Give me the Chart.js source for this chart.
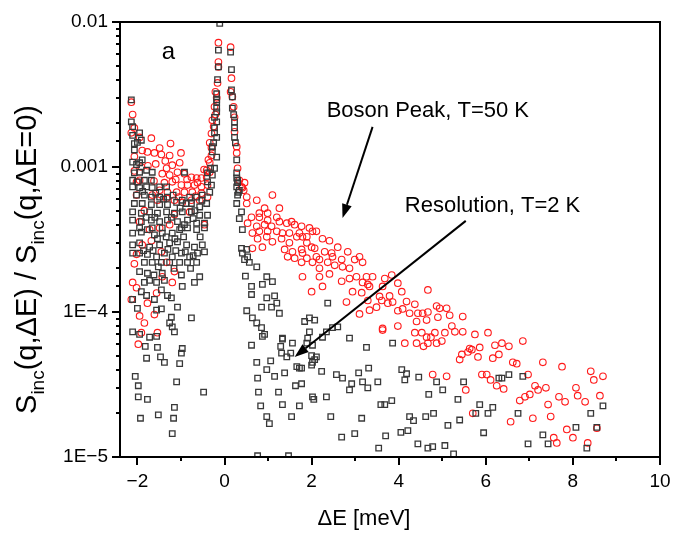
<!DOCTYPE html>
<html>
<head>
<meta charset="utf-8">
<script src="https://cdn.jsdelivr.net/npm/chart.js@4.4.1/dist/chart.umd.min.js"></script>
<style>
  html, body { margin: 0; padding: 0; background: #fff; }
</style>
</head>
<body>
<canvas id="chart" width="673" height="534"></canvas>
<script>
// Boson peak, T=50 K (red circles) : [dE meV, S/S0]
const bosonPeak = [
  [-2.14,2.8e-3],[-2.11,2.3e-3],[-2.07,1.86e-3],[-1.95,1.6e-3],[-2.14,1.72e-3],[-2.07,1.18e-3],[-1.91,1.0e-3],
  [-1.95,8.1e-4],[-2.07,9.4e-4],[-2.02,7.9e-4],[-1.95,4.2e-4],[-1.89,2.9e-4],[-1.68,3.1e-4],[-1.45,2.6e-4],
  [-1.26,4.0e-4],[-2.02,2.5e-4],[-2.07,2.15e-4],[-2.11,1.6e-4],[-2.02,1.47e-4],[-2.14,1.22e-4],[-1.77,1.15e-4],
  [-1.61,9.6e-5],[-1.84,8.4e-5],[-1.91,7.2e-5],[-1.98,6.0e-5],[-1.54,7.2e-5],[-1.15,1.9e-4],[-1.20,1.6e-4],
  [-1.33,2.2e-4],[-1.56,1.35e-4],[-1.43,1.75e-4],[-1.95,9.4e-5],
  [-1.68,1.58e-3],[-1.49,1.35e-3],[-1.26,1.2e-3],[-1.45,1.22e-3],[-1.61,1.25e-3],[-1.77,1.27e-3],[-1.89,1.3e-3],
  [-1.03,1.07e-3],[-1.20,1.03e-3],[-1.33,9.8e-4],[-1.43,9.0e-4],[-1.26,8.8e-4],[-1.08,9.2e-4],[-0.92,9.0e-4],
  [-0.76,8.5e-4],[-0.64,8.4e-4],[-0.53,8.4e-4],[-0.41,8.5e-4],[-0.34,9.2e-4],[-0.34,1.07e-3],[-0.30,1.2e-3],
  [-1.38,7.8e-4],[-1.20,7.9e-4],[-0.99,7.5e-4],[-0.85,7.5e-4],[-0.69,7.5e-4],[-0.53,7.3e-4],[-0.39,7.5e-4],
  [-1.49,6.9e-4],[-1.31,6.7e-4],[-1.10,6.7e-4],[-0.92,6.7e-4],[-0.74,6.7e-4],[-0.53,6.6e-4],[-1.54,5.9e-4],
  [-1.33,6.1e-4],[-1.15,5.9e-4],[-0.97,5.7e-4],[-0.76,5.9e-4],[-0.57,5.9e-4],[-0.39,6.2e-4],[-1.66,6.4e-4],
  [-2.02,6.4e-4],[-1.84,5.0e-4],[-1.72,3.7e-4],[-1.15,4.7e-4],[-0.80,4.9e-4],[-0.46,4.0e-4],[-1.49,3.8e-4],
  [-1.58,1.05e-3],[-1.36,1.1e-3],[-1.12,8.2e-4],[-0.86,8.2e-4],[-0.62,7.8e-4],[-0.47,9.6e-4],[-1.05,6.2e-4],
  [-0.66,6.3e-4],[-1.62,8.0e-4],[-1.76,1.02e-3],[-1.00,1.25e-3],[-1.24,1.45e-3],
  [-0.14,7.2e-3],[-0.14,5.3e-3],[-0.14,4.9e-3],[-0.16,3.8e-3],[-0.21,3.3e-3],[-0.18,3.0e-3],[-0.23,2.6e-3],
  [-0.21,2.3e-3],[-0.28,2.1e-3],[-0.25,1.9e-3],[-0.30,1.7e-3],[-0.34,1.47e-3],[-0.30,1.36e-3],[-0.37,1.12e-3],
  [-0.41,9.5e-4],
  [0.14,6.7e-3],[0.16,4.1e-3],[0.14,3.3e-3],[0.18,3.05e-3],[0.21,2.6e-3],[0.23,2.2e-3],[0.23,1.75e-3],
  [0.28,1.38e-3],[0.28,1.25e-3],[0.30,9.8e-4],[0.34,8.1e-4],[0.39,7.3e-4],[0.44,6.9e-4],[0.51,6.2e-4],
  [0.74,5.9e-4],[1.10,6.4e-4],
  [0.46,7.8e-4],[0.41,7.2e-4],[0.51,5.6e-4],[0.92,5.2e-4],[0.80,4.8e-4],[0.99,4.8e-4],[1.26,5.2e-4],
  [0.62,4.5e-4],[0.80,4.5e-4],[0.99,4.3e-4],[1.20,4.5e-4],[0.53,4.1e-4],[0.74,3.9e-4],[0.92,4.0e-4],
  [1.08,3.9e-4],[1.26,4.2e-4],[1.43,4.1e-4],[1.54,4.2e-4],[1.61,4.0e-4],[1.77,3.9e-4],[1.95,3.8e-4],
  [2.11,3.6e-4],[0.64,3.5e-4],[0.80,3.6e-4],[0.99,3.6e-4],[1.20,3.6e-4],[1.33,3.5e-4],[1.49,3.5e-4],
  [1.72,3.5e-4],[0.76,3.2e-4],[0.97,3.3e-4],[1.10,3.05e-4],[1.31,3.2e-4],[1.49,3.0e-4],[1.66,3.3e-4],
  [1.89,3.3e-4],[0.64,2.75e-4],[0.87,2.8e-4],[1.38,2.7e-4],[1.56,2.6e-4],[1.77,2.7e-4],[2.00,2.8e-4],
  [1.61,2.35e-4],[1.45,2.4e-4],[2.11,2.4e-4],[1.79,1.75e-4],[2.00,1.38e-4],
  [2.02,3.6e-4],[1.79,3.3e-4],[2.25,3.2e-4],[2.41,3.1e-4],[1.89,3.0e-4],[2.07,2.75e-4],[2.30,2.6e-4],
  [2.46,2.55e-4],[2.60,2.8e-4],[1.79,2.55e-4],[1.89,2.35e-4],[2.18,2.3e-4],[2.48,2.4e-4],[2.69,2.3e-4],
  [2.83,2.6e-4],[2.99,2.3e-4],[3.10,2.4e-4],[1.77,2.2e-4],[2.02,2.2e-4],[2.37,2.2e-4],[2.53,2.1e-4],
  [2.71,2.05e-4],[2.87,2.0e-4],[3.17,2.2e-4],[2.18,2.0e-4],[2.41,1.83e-4],[2.87,1.7e-4],[2.69,1.63e-4],
  [3.03,1.75e-4],[3.26,1.75e-4],[3.40,1.75e-4],[3.68,1.7e-4],[3.84,1.8e-4],[2.18,1.75e-4],[3.17,1.6e-4],
  [3.29,1.55e-4],[2.25,1.5e-4],[2.94,1.38e-4],[3.15,1.36e-4],[3.33,1.5e-4],[3.63,1.5e-4],[3.98,1.58e-4],
  [4.07,1.38e-4],[3.56,1.28e-4],[3.61,1.2e-4],[3.79,1.29e-4],[3.86,1.17e-4],[4.18,1.18e-4],[4.37,1.13e-4],
  [2.80,1.17e-4],[3.29,1.2e-4],[3.49,1.08e-4],[3.75,1.15e-4],[4.09,1.05e-4],[3.98,1.02e-4],[3.10,9.7e-5],
  [3.33,1.03e-4],[4.67,1.42e-4],[4.25,9.8e-5],[4.44,9.8e-5],[4.55,9.8e-5],[4.67,1.0e-4],[4.87,1.1e-4],
  [4.94,1.06e-4],[5.10,1.06e-4],[5.17,9.5e-5],[5.47,9.3e-5],[4.41,8.6e-5],[4.64,8.8e-5],[4.90,9.2e-5],
  [5.22,8.0e-5],[5.29,7.3e-5],[5.06,7.2e-5],[4.83,7.2e-5],[4.64,6.7e-5],[4.53,7.2e-5],[4.37,7.2e-5],
  [3.98,8.0e-5],[3.63,7.7e-5],[4.14,6.1e-5],[4.41,6.1e-5],[4.67,6.1e-5],[4.87,6.1e-5],[5.47,7.3e-5],
  [5.75,7.0e-5],[6.05,7.2e-5],[6.21,5.9e-5],[5.63,5.6e-5],[5.86,5.7e-5],
  [4.57,5.8e-5],[4.74,6.7e-5],[4.99,6.3e-5],[4.78,3.7e-5],[5.10,3.6e-5],[5.54,2.9e-5],[5.40,4.7e-5],
  [5.45,5.1e-5],[5.59,5.3e-5],[5.68,5.5e-5],[5.82,4.9e-5],[6.16,4.8e-5],[6.30,5.1e-5],[5.91,3.7e-5],
  [6.02,3.7e-5],[6.11,3.4e-5],[5.70,2.0e-5],[3.63,7.5e-5],
  [6.37,6.1e-5],[6.53,5.8e-5],[6.85,6.3e-5],[6.62,4.5e-5],[6.71,4.4e-5],[6.25,3.1e-5],[6.41,2.95e-5],
  [6.97,3.7e-5],[7.31,4.5e-5],[7.75,4.2e-5],[7.13,3.1e-5],[7.20,2.9e-5],[7.38,3.0e-5],[7.01,2.7e-5],
  [6.90,2.6e-5],[6.78,2.45e-5],[7.68,2.6e-5],[7.82,2.4e-5],[7.43,2.3e-5],[7.49,1.9e-5],[7.08,1.85e-5],
  [6.57,1.75e-5],[8.07,3.0e-5],[8.11,2.65e-5],[8.28,2.4e-5],[8.41,3.9e-5],[8.48,3.4e-5],[8.69,3.6e-5],
  [8.62,2.65e-5],[7.86,1.55e-5],[8.00,1.36e-5],[7.56,1.36e-5],[7.63,1.25e-5],[8.34,1.25e-5],[8.55,1.58e-5]
];

// Resolution, T=2 K (dark squares) : [dE meV, S/S0]
const resolution = [
  [-2.14,2.9e-3],[-2.11,1.9e-3],[-2.14,2.05e-3],[-2.11,1.65e-3],[-2.07,1.45e-3],[-2.00,1.48e-3],[-1.91,1.53e-3],
  [-1.95,1.72e-3],[-2.07,1.31e-3],[-2.11,1.08e-3],[-2.02,1.04e-3],[-1.95,1.07e-3],[-1.89,1.12e-3],[-2.07,9.1e-4],
  [-1.95,9.2e-4],[-1.79,9.5e-4],[-1.66,9.2e-4],[-2.11,8.1e-4],[-2.00,7.9e-4],[-1.84,8.1e-4],[-1.68,8.1e-4],
  [-2.11,7.3e-4],[-1.95,7.2e-4],[-1.79,7.3e-4],[-1.66,7.2e-4],[-1.49,7.3e-4],[-1.33,7.3e-4],[-0.92,9.2e-4],
  [-2.02,6.4e-4],[-1.84,6.4e-4],[-1.68,6.2e-4],[-1.49,6.2e-4],[-1.31,6.2e-4],[-0.80,6.2e-4],[-0.64,6.2e-4],
  [-0.51,6.4e-4],[-0.34,6.7e-4],[-0.30,7.5e-4],[-0.39,7.9e-4],[-0.28,8.8e-4],[-0.23,9.8e-4],
  [-0.18,1.17e-3],[-0.28,1.27e-3],[-0.25,1.47e-3],[-0.18,1.6e-3],[-0.23,1.72e-3],[-0.18,2.05e-3],[-0.18,2.4e-3],
  [-0.18,2.8e-3],[-0.11,9.8e-3],[-0.14,6.4e-3],[-0.14,4.9e-3],[-0.16,4.0e-3],[-0.18,3.2e-3],[-0.18,2.9e-3],
  [-0.18,2.55e-3],[-0.23,2.2e-3],[-0.23,1.86e-3],[-0.28,1.38e-3],[-0.32,9.8e-4],[-0.39,9.1e-4],
  [0.14,6.2e-3],[0.16,4.7e-3],[0.16,3.4e-3],[0.18,3.05e-3],[0.18,2.55e-3],[0.21,2.3e-3],[0.23,2.05e-3],
  [0.23,1.86e-3],[0.23,1.6e-3],[0.25,1.47e-3],[0.28,1.12e-3],[0.28,9.1e-4],[0.30,8.1e-4],[0.28,7.3e-4],
  [0.32,6.7e-4],[0.28,8.4e-4],[0.30,7.8e-4],[0.34,6.9e-4],[0.30,6.4e-4],[0.28,5.6e-4],[0.39,4.9e-4],
  [0.34,4.4e-4],[0.41,3.7e-4],[0.39,2.75e-4],[0.41,2.55e-4],[0.51,2.7e-4],[0.53,2.4e-4],[0.46,2.3e-4],
  [0.57,2.2e-4],[0.74,2.05e-4],[0.48,1.77e-4],[0.97,1.75e-4],[1.10,1.62e-4],[0.87,1.55e-4],[0.62,1.5e-4],
  [1.15,1.29e-4],[0.97,1.25e-4],[0.62,1.32e-4],[0.85,1.08e-4],[1.08,1.08e-4],[1.26,9.8e-5],[1.20,1.15e-4],
  [0.51,1.02e-4],[0.64,9.1e-5],[0.74,8.4e-5],[0.85,7.8e-5],[0.92,7.0e-5],[1.33,6.6e-5],[1.56,6.1e-5],
  [1.84,8.6e-5],[2.07,8.8e-5],[1.95,7.3e-5],[0.62,5.9e-5],
  [-2.07,5.6e-4],[-1.89,5.6e-4],[-1.68,5.5e-4],[-1.49,5.5e-4],[-1.31,5.5e-4],[-1.10,5.7e-4],[-0.97,5.9e-4],
  [-0.76,5.6e-4],[-0.57,5.3e-4],[-0.41,5.6e-4],[-2.11,4.9e-4],[-1.91,4.8e-4],[-1.72,4.9e-4],[-1.54,4.8e-4],
  [-1.33,4.9e-4],[-1.15,4.8e-4],[-0.97,4.9e-4],[-0.76,4.9e-4],[-0.57,4.65e-4],[-0.39,4.65e-4],[-2.11,4.3e-4],
  [-1.91,4.2e-4],[-1.68,4.3e-4],[-1.49,4.2e-4],[-1.31,4.3e-4],[-1.08,4.2e-4],[-0.85,4.3e-4],[-0.64,4.1e-4],
  [-0.46,4.1e-4],[-1.95,3.8e-4],[-1.66,3.8e-4],[-1.43,3.8e-4],[-0.99,3.8e-4],[-2.11,3.5e-4],[-1.91,3.55e-4],
  [-1.77,3.7e-4],[-1.61,3.4e-4],[-1.43,3.5e-4],[-1.20,3.5e-4],[-1.03,3.7e-4],[-0.85,3.8e-4],[-0.64,3.7e-4],
  [-0.46,3.8e-4],[-2.11,2.9e-4],[-1.95,3.0e-4],[-1.72,2.8e-4],[-1.49,2.9e-4],[-1.26,3.0e-4],[-1.08,3.05e-4],
  [-0.87,2.9e-4],[-0.69,2.8e-4],[-0.51,2.9e-4],[-2.11,2.55e-4],[-1.95,2.55e-4],[-1.77,2.5e-4],[-1.56,2.4e-4],
  [-1.38,2.55e-4],[-1.20,2.4e-4],[-0.99,2.55e-4],[-0.80,2.4e-4],[-0.62,2.55e-4],[-0.46,2.6e-4],[-1.84,2.2e-4],
  [-1.66,2.2e-4],[-1.45,2.2e-4],[-1.26,2.2e-4],[-1.03,2.2e-4],[-0.85,2.2e-4],[-0.64,2.2e-4],[-1.95,1.9e-4],
  [-1.77,1.85e-4],[-1.43,1.85e-4],[-0.99,1.8e-4],[-1.84,1.6e-4],[-1.72,1.65e-4],[-1.56,1.6e-4],[-1.38,1.65e-4],
  [-0.97,1.5e-4],[-0.69,1.6e-4],[-0.57,1.75e-4],[-1.91,1.38e-4],[-1.79,1.3e-4],[-1.45,1.42e-4],[-1.31,1.3e-4],
  [-2.11,1.22e-4],[-1.61,1.22e-4],[-1.22,1.25e-4],[-1.08,1.08e-4],[-2.00,1.06e-4],[-1.45,1.05e-4],[-1.56,1.03e-4],
  [-1.22,9.2e-5],[-0.76,9.1e-5],[-1.26,8.4e-5],[-1.20,7.9e-5],[-1.15,7.3e-5],[-2.11,7.3e-5],[-1.95,7.0e-5],
  [-1.72,6.7e-5],[-1.56,6.8e-5],[-1.82,5.8e-5],[-1.54,5.7e-5],[-0.97,5.6e-5],[-1.79,4.8e-5],[-1.47,4.9e-5],
  [-1.38,4.5e-5],[-0.99,5.2e-5],[-1.03,4.4e-5],[-2.05,3.6e-5],[-1.98,3.1e-5],[-1.98,2.6e-5],[-1.77,2.5e-5],
  [-1.10,3.3e-5],[-0.48,2.8e-5],[-1.15,2.2e-5],[-1.93,1.85e-5],[-1.52,1.95e-5],[-1.17,1.85e-5],[-1.20,1.45e-5],
  [-1.88,6.8e-4],[-1.58,6.6e-4],[-1.40,6.0e-4],[-1.18,6.4e-4],[-1.02,5.2e-4],[-0.88,5.6e-4],[-0.68,5.0e-4],
  [-0.52,5.9e-4],[-1.80,4.5e-4],[-1.60,4.5e-4],[-1.22,4.5e-4],[-0.92,4.0e-4],[-0.72,4.4e-4],[-1.54,3.2e-4],
  [-1.34,3.3e-4],[-1.14,3.2e-4],[-0.94,3.3e-4],[-0.56,3.3e-4],[-1.86,2.65e-4],[-1.64,2.65e-4],[-1.30,2.7e-4],
  [-1.12,2.65e-4],[-0.90,2.6e-4],[-0.72,2.45e-4],[-1.52,2.05e-4],[-1.16,2.0e-4],[-0.78,2.0e-4],[-1.62,1.8e-4],
  [0.87,6.8e-5],[0.74,4.5e-5],[1.06,4.6e-5],[0.97,4.0e-5],[1.29,5.8e-5],[1.33,6.5e-5],[1.31,5.2e-5],
  [1.52,5.2e-5],[1.43,4.9e-5],[0.76,3.5e-5],[1.15,3.6e-5],[1.38,3.8e-5],[1.66,4.2e-5],[1.72,4.1e-5],
  [0.78,2.8e-5],[1.24,2.8e-5],[0.83,2.25e-5],[1.33,2.3e-5],[1.72,2.25e-5],[1.77,3.2e-5],[1.63,3.1e-5],
  [2.05,2.5e-5],[2.00,4.3e-5],[2.07,4.7e-5],[0.97,1.9e-5],[1.03,1.7e-5],[1.54,1.9e-5],[0.76,1.02e-5],
  [1.47,1.02e-5],
  [2.37,1.15e-4],[1.95,9.1e-5],[2.60,7.9e-5],[2.48,7.8e-5],[2.34,7.3e-5],[2.25,6.7e-5],[2.87,6.6e-5],
  [3.26,5.7e-5],[3.86,6.1e-5],[1.89,6.1e-5],[1.91,6.6e-5],[2.02,5.9e-5],[2.00,5.0e-5],[2.11,4.9e-5],
  [2.02,4.5e-5],[2.23,3.9e-5],[1.77,4.1e-5],[2.02,2.6e-5],[2.34,2.6e-5],[2.57,3.7e-5],[2.71,3.5e-5],
  [2.92,3.2e-5],[2.87,2.9e-5],[3.08,3.8e-5],[3.17,3.3e-5],[3.29,3.0e-5],[3.31,4.1e-5],[3.52,3.3e-5],
  [2.44,1.9e-5],[2.69,1.37e-5],[2.99,1.45e-5],[3.15,1.85e-5],[3.59,2.3e-5],[3.68,2.3e-5],[3.84,2.45e-5],
  [3.70,1.4e-5],[3.54,1.15e-5],[4.07,4.0e-5],[4.18,3.75e-5],[4.14,3.4e-5],[4.46,3.55e-5],[4.05,1.48e-5],
  [4.21,1.52e-5],[4.25,1.9e-5],[4.34,1.78e-5],[4.44,1.23e-5],[4.62,1.9e-5],[4.80,2.0e-5],[4.69,2.7e-5],
  [4.87,3.3e-5],[5.01,2.9e-5],[5.49,3.3e-5],[5.36,2.5e-5],[5.40,1.8e-5],[5.13,1.65e-5],[4.67,1.15e-5],
  [4.78,1.18e-5],[5.06,1.2e-5],[5.26,1.05e-5],[5.86,2.3e-5],[5.77,2.0e-5],[5.95,1.47e-5],[6.05,2.0e-5],
  [6.16,2.2e-5],[6.30,3.5e-5],
  [6.37,3.5e-5],[6.53,3.7e-5],[6.85,3.6e-5],[6.74,2.0e-5],[6.97,1.23e-5],[7.31,1.42e-5],[7.43,1.23e-5],
  [8.07,1.6e-5],[8.41,2.0e-5],[8.55,1.6e-5],[8.69,2.25e-5],[8.32,1.15e-5]
];

// axis ticks
const xTickValues = [-2, 0, 2, 4, 6, 8, 10];
const xTickLabels = ['\u22122', '0', '2', '4', '6', '8', '10'];
const yDecades = [1e-5, 1e-4, 1e-3, 1e-2];
const yDecadeLabels = ['1E\u22125', '1E\u22124', '0.001', '0.01'];

// text annotations, anchored in data coordinates
const notes = [
  { text: 'a', x: -1.29, y: 6.2e-3, align: 'center', size: 24 },
  { text: 'Boson Peak, T=50 K', x: 2.345, y: 2.21e-3, align: 'left', size: 22 },
  { text: 'Resolution, T=2 K', x: 4.14, y: 4.9e-4, align: 'left', size: 22 }
];
const arrows = [
  { from: [3.40, 1.89e-3], to: [2.71, 4.45e-4] },
  { from: [5.54, 4.25e-4], to: [1.61, 4.9e-5] }
];

const FONT = '"Liberation Sans", Arial, sans-serif';

function isDecade(v) {
  const l = Math.log10(v);
  return Math.abs(l - Math.round(l)) < 1e-6;
}

// outward tick marks, long for labelled ticks and short for the others
const tickMarks = {
  id: 'tickMarks',
  afterDraw(chart) {
    const ctx = chart.ctx;
    const { x, y } = chart.scales;
    ctx.save();
    ctx.strokeStyle = '#000';
    ctx.lineWidth = 2;
    x.ticks.forEach(t => {
      if (t.value < x.min || t.value > x.max) return;
      const px = Math.round(x.getPixelForValue(t.value));
      const len = xTickValues.includes(t.value) ? 8 : 4;
      ctx.beginPath();
      ctx.moveTo(px, x.top);
      ctx.lineTo(px, x.top + len);
      ctx.stroke();
    });
    y.ticks.forEach(t => {
      if (t.value < y.min * 0.999 || t.value > y.max * 1.001) return;
      const py = Math.round(y.getPixelForValue(t.value));
      const len = isDecade(t.value) ? 8 : 4;
      ctx.beginPath();
      ctx.moveTo(y.right, py);
      ctx.lineTo(y.right - len, py);
      ctx.stroke();
    });
    ctx.restore();
  }
};

// box around the plot area
const frame = {
  id: 'frame',
  afterDatasetsDraw(chart) {
    const { left, right, top, bottom } = chart.chartArea;
    const ctx = chart.ctx;
    ctx.save();
    ctx.strokeStyle = '#000';
    ctx.lineWidth = 2;
    ctx.strokeRect(left, top, right - left, bottom - top);
    ctx.restore();
  }
};

// draw text runs with subscripts
function drawRuns(ctx, runs, size, subSize) {
  let w = 0;
  runs.forEach(r => {
    ctx.font = (r.sub ? subSize : size) + 'px ' + FONT;
    r.w = ctx.measureText(r.t).width;
    w += r.w;
  });
  let cx = -w / 2;
  runs.forEach(r => {
    ctx.font = (r.sub ? subSize : size) + 'px ' + FONT;
    ctx.fillText(r.t, cx, r.sub ? size * 0.28 : 0);
    cx += r.w;
  });
}

const axisTitles = {
  id: 'axisTitles',
  afterDraw(chart) {
    const ctx = chart.ctx;
    const area = chart.chartArea;
    ctx.save();
    ctx.fillStyle = '#000';
    ctx.textBaseline = 'alphabetic';
    // x title
    ctx.font = '22px ' + FONT;
    ctx.textAlign = 'center';
    ctx.fillText('\u0394E [meV]', 364, 525);
    // y title, rotated
    ctx.textAlign = 'left';
    ctx.translate(36, (area.top + area.bottom) / 2 + 20);
    ctx.rotate(-Math.PI / 2);
    drawRuns(ctx, [
      { t: 'S' }, { t: 'inc', sub: true }, { t: '(q,\u0394E) / S' },
      { t: 'inc', sub: true }, { t: '(q,\u0394E=0)' }
    ], 29, 19);
    ctx.restore();
  }
};

const annotations = {
  id: 'annotations',
  afterDraw(chart) {
    const ctx = chart.ctx;
    const { x, y } = chart.scales;
    ctx.save();
    ctx.fillStyle = '#000';
    ctx.strokeStyle = '#000';
    notes.forEach(n => {
      ctx.font = n.size + 'px ' + FONT;
      ctx.textAlign = n.align;
      ctx.textBaseline = n.align === 'center' ? 'middle' : 'alphabetic';
      ctx.fillText(n.text, x.getPixelForValue(n.x), y.getPixelForValue(n.y));
    });
    arrows.forEach(a => {
      const x0 = x.getPixelForValue(a.from[0]), y0 = y.getPixelForValue(a.from[1]);
      const x1 = x.getPixelForValue(a.to[0]), y1 = y.getPixelForValue(a.to[1]);
      const ang = Math.atan2(y1 - y0, x1 - x0);
      const head = 14, half = 5;
      const bx = x1 - head * Math.cos(ang), by = y1 - head * Math.sin(ang);
      ctx.lineWidth = 2;
      ctx.beginPath();
      ctx.moveTo(x0, y0);
      ctx.lineTo(bx, by);
      ctx.stroke();
      ctx.beginPath();
      ctx.moveTo(x1, y1);
      ctx.lineTo(bx + half * Math.sin(ang), by - half * Math.cos(ang));
      ctx.lineTo(bx - half * Math.sin(ang), by + half * Math.cos(ang));
      ctx.closePath();
      ctx.fill();
    });
    ctx.restore();
  }
};

const toPoints = arr => arr.map(([e, s]) => ({ x: e, y: s }));

const ctx = document.getElementById('chart').getContext('2d');
const chart = new Chart(ctx, {
  type: 'scatter',
  data: {
    datasets: [
      {
        label: 'Resolution, T=2 K',
        data: toPoints(resolution),
        pointStyle: 'rect',
        pointRadius: 3.9,
        pointBorderWidth: 1.3,
        pointBorderColor: '#383838',
        pointBackgroundColor: 'rgba(0,0,0,0)'
      },
      {
        label: 'Boson Peak, T=50 K',
        data: toPoints(bosonPeak),
        pointStyle: 'circle',
        pointRadius: 3.3,
        pointBorderWidth: 1.1,
        pointBorderColor: '#ff1a1a',
        pointBackgroundColor: 'rgba(0,0,0,0)'
      }
    ]
  },
  options: {
    responsive: false,
    animation: false,
    layout: { padding: { top: 22, right: 13, left: 0, bottom: 0 } },
    plugins: {
      legend: { display: false },
      tooltip: { enabled: false }
    },
    scales: {
      x: {
        type: 'linear',
        min: -2.4,
        max: 10,
        ticks: {
          stepSize: 1,
          includeBounds: false,
          autoSkip: false,
          maxRotation: 0,
          padding: 13,
          color: '#000',
          font: { family: FONT, size: 19 },
          callback: v => {
            const i = xTickValues.indexOf(v);
            return i >= 0 ? xTickLabels[i] : '';
          }
        },
        grid: { display: true, drawOnChartArea: false, drawTicks: false },
        border: { display: false },
        afterFit: s => { s.height = 77; s.paddingLeft = 0; s.paddingRight = 0; }
      },
      y: {
        type: 'logarithmic',
        min: 1e-5,
        max: 1e-2,
        ticks: {
          autoSkip: false,
          padding: 12,
          color: '#000',
          font: { family: FONT, size: 19 },
          callback: v => {
            const i = yDecades.findIndex(d => Math.abs(d - v) / d < 1e-6);
            return i >= 0 ? yDecadeLabels[i] : '';
          }
        },
        grid: { display: true, drawOnChartArea: false, drawTicks: false },
        border: { display: false },
        afterFit: s => { s.width = 120; s.paddingTop = 0; s.paddingBottom = 0; }
      }
    }
  },
  plugins: [frame, tickMarks, axisTitles, annotations]
});
</script>
</body>
</html>
